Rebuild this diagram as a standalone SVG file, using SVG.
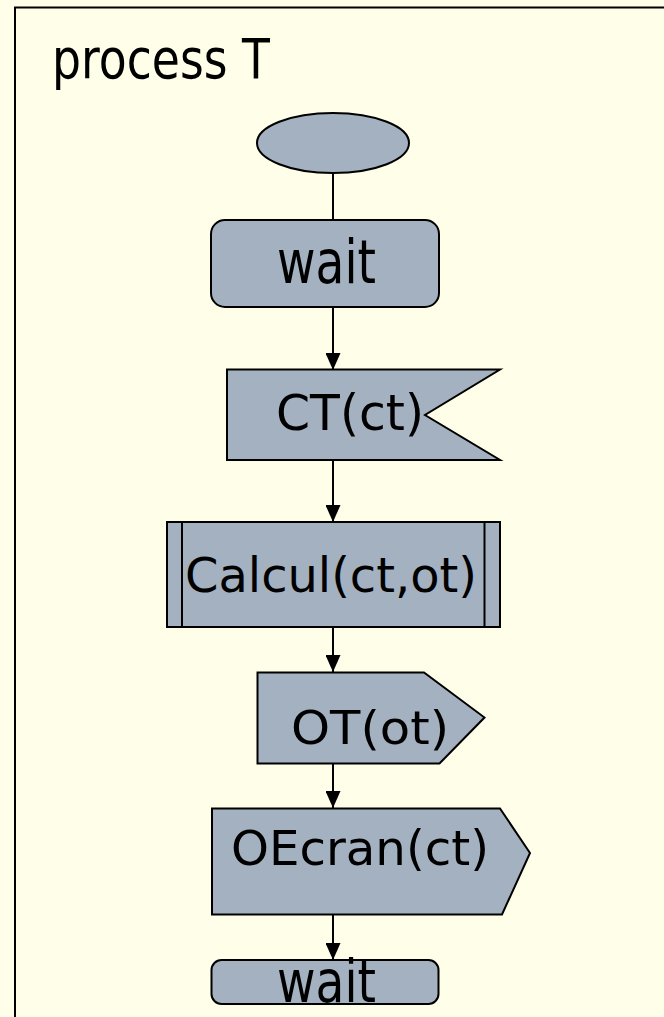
<svg xmlns="http://www.w3.org/2000/svg" width="664" height="1017" viewBox="0 0 664 1017">
  <style>
    .shape { fill: #A3B1C0; stroke: #000; stroke-width: 2; stroke-linejoin: miter; }
    .lbl { font-family: "DejaVu Sans", Verdana, sans-serif; fill: #000; }
    .conn { stroke: #000; stroke-width: 2; fill: none; }
  </style>
  <defs>
    <marker id="arrow" markerUnits="userSpaceOnUse" viewBox="0 0 17 15" markerWidth="17" markerHeight="15" refX="17" refY="7.5" orient="auto">
      <path d="M0,0 L17,7.5 L0,15 z" fill="#000"/>
    </marker>
  </defs>
  <rect x="0" y="0" width="664" height="1017" fill="#FFFFE9"/>
  <g id="frame">
    <rect x="15" y="7.5" width="700" height="1100" fill="#FFFFE9" stroke="#000" stroke-width="2"/>
    <text class="lbl" x="52" y="78" font-size="56" textLength="218" lengthAdjust="spacingAndGlyphs">process T</text>
  </g>
  <g id="connectors">
    <line class="conn" x1="333" y1="173" x2="333" y2="220"/>
    <line class="conn" x1="333" y1="307" x2="333" y2="370" marker-end="url(#arrow)"/>
    <line class="conn" x1="333" y1="460" x2="333" y2="522" marker-end="url(#arrow)"/>
    <line class="conn" x1="333" y1="627" x2="333" y2="672" marker-end="url(#arrow)"/>
    <line class="conn" x1="333" y1="763" x2="333" y2="808" marker-end="url(#arrow)"/>
    <line class="conn" x1="333" y1="914" x2="333" y2="960" marker-end="url(#arrow)"/>
  </g>
  <g id="start">
    <ellipse class="shape" cx="333" cy="143" rx="76" ry="30"/>
  </g>
  <g id="wait1">
    <rect class="shape" x="211" y="220" width="228" height="87" rx="14" ry="14"/>
    <text class="lbl" x="277" y="283" font-size="60" textLength="99" lengthAdjust="spacingAndGlyphs">wait</text>
  </g>
  <g id="input-ct">
    <polygon class="shape" points="227,369.5 500,369.5 425,415 500,460 227,460"/>
    <text class="lbl" x="276" y="430" font-size="50" textLength="148" lengthAdjust="spacingAndGlyphs">CT(ct)</text>
  </g>
  <g id="calcul">
    <rect class="shape" x="167" y="522" width="333" height="105"/>
    <line class="conn" x1="182" y1="522" x2="182" y2="627"/>
    <line class="conn" x1="484.5" y1="522" x2="484.5" y2="627"/>
    <text class="lbl" x="185" y="592" font-size="48" textLength="292" lengthAdjust="spacingAndGlyphs">Calcul(ct,ot)</text>
  </g>
  <g id="output-ot">
    <polygon class="shape" points="257.5,672.5 424,672.5 484.5,717.5 439.5,763.5 257.5,763.5"/>
    <text class="lbl" x="291" y="743.5" font-size="47" textLength="158" lengthAdjust="spacingAndGlyphs">OT(ot)</text>
  </g>
  <g id="output-oecran">
    <polygon class="shape" points="212,808.5 500,808.5 530,853 502,914.5 212,914.5"/>
    <text class="lbl" x="231" y="865" font-size="48" textLength="258" lengthAdjust="spacingAndGlyphs">OEcran(ct)</text>
  </g>
  <g id="wait2">
    <rect class="shape" x="211.5" y="960" width="227" height="44" rx="10" ry="10"/>
    <text class="lbl" x="277" y="1002" font-size="58" textLength="99" lengthAdjust="spacingAndGlyphs">wait</text>
  </g>
</svg>
